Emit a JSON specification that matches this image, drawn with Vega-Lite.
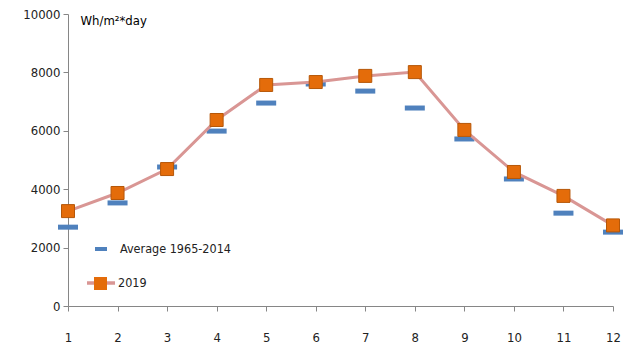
{
  "$schema": "https://vega.github.io/schema/vega-lite/v6.json",
  "width": 545,
  "height": 292,
  "autosize": {"type": "none"},
  "padding": {"left": 68, "top": 14, "right": 27, "bottom": 54},
  "background": "white",
  "config": {
    "view": {"stroke": null},
    "font": "Liberation Sans Narrow, DejaVu Sans Condensed, Liberation Sans",
    "axis": {"domainColor": "#868686", "tickColor": "#868686", "labelColor": "#222222", "labelFontSize": 13, "grid": false}
  },
  "data": {
    "values": [
      {"month": 1, "series": "Average 1965-2014", "value": 2700},
      {"month": 2, "series": "Average 1965-2014", "value": 3530},
      {"month": 3, "series": "Average 1965-2014", "value": 4760},
      {"month": 4, "series": "Average 1965-2014", "value": 5990},
      {"month": 5, "series": "Average 1965-2014", "value": 6950},
      {"month": 6, "series": "Average 1965-2014", "value": 7600},
      {"month": 7, "series": "Average 1965-2014", "value": 7360},
      {"month": 8, "series": "Average 1965-2014", "value": 6780},
      {"month": 9, "series": "Average 1965-2014", "value": 5720},
      {"month": 10, "series": "Average 1965-2014", "value": 4350},
      {"month": 11, "series": "Average 1965-2014", "value": 3180},
      {"month": 12, "series": "Average 1965-2014", "value": 2530},
      {"month": 1, "series": "2019", "value": 3250},
      {"month": 2, "series": "2019", "value": 3870},
      {"month": 3, "series": "2019", "value": 4690},
      {"month": 4, "series": "2019", "value": 6370},
      {"month": 5, "series": "2019", "value": 7570},
      {"month": 6, "series": "2019", "value": 7670},
      {"month": 7, "series": "2019", "value": 7880},
      {"month": 8, "series": "2019", "value": 8010},
      {"month": 9, "series": "2019", "value": 6030},
      {"month": 10, "series": "2019", "value": 4590},
      {"month": 11, "series": "2019", "value": 3770},
      {"month": 12, "series": "2019", "value": 2760}
    ]
  },
  "encoding": {
    "x": {
      "field": "month", "type": "quantitative",
      "scale": {"domain": [1, 12], "nice": false, "zero": false},
      "axis": {"values": [1,2,3,4,5,6,7,8,9,10,11,12], "format": "d", "title": null, "tickSize": 5, "labelPadding": 20, "labelFlush": false}
    },
    "y": {
      "field": "value", "type": "quantitative",
      "scale": {"domain": [0, 10000], "nice": false},
      "axis": {"values": [0, 2000, 4000, 6000, 8000, 10000], "format": "d", "tickSize": 5, "labelPadding": 3,
        "title": "Wh/m²*day", "titleAngle": 0, "titleAlign": "left", "titleBaseline": "middle", "titleX": 12, "titleY": 6,
        "titleFontWeight": "normal", "titleFontSize": 13, "titleColor": "#000000"}
    }
  },
  "layer": [
    {
      "transform": [{"filter": "datum.series === 'Average 1965-2014'"}],
      "mark": {"type": "tick", "orient": "horizontal", "size": 20, "thickness": 5, "opacity": 1},
      "encoding": {
        "color": {
          "field": "series", "type": "nominal",
          "scale": {"domain": ["Average 1965-2014"], "range": ["#4F81BD"]},
          "legend": {"orient": "none", "legendX": 26, "legendY": 228, "title": null, "padding": 0,
            "symbolType": "M-1,-0.33H1V0.33H-1Z", "symbolSize": 144, "symbolOpacity": 1, "labelFontSize": 12.5, "labelOffset": 12, "labelColor": "#222222"}
        }
      }
    },
    {
      "transform": [{"filter": "datum.series === '2019'"}],
      "mark": {"type": "line", "strokeWidth": 3},
      "encoding": {
        "stroke": {
          "field": "series", "type": "nominal",
          "scale": {"domain": ["2019"], "range": ["#D99694"]},
          "legend": {"orient": "none", "legendX": 17, "legendY": 253, "title": null, "padding": 0,
            "symbolType": "stroke", "symbolSize": 784, "symbolStrokeWidth": 3.5, "labelFontSize": 12.5, "labelOffset": 1, "labelColor": "#222222"}
        }
      }
    },
    {
      "transform": [{"filter": "datum.series === '2019'"}],
      "mark": {"type": "point", "filled": true, "fill": "#E46C0A", "stroke": "#B65708", "strokeWidth": 1, "size": 169, "opacity": 1},
      "encoding": {
        "shape": {
          "field": "series", "type": "nominal",
          "scale": {"range": ["square"]},
          "legend": {"orient": "none", "legendX": 25.5, "legendY": 262.5, "title": null, "padding": 0,
            "symbolType": "square", "symbolSize": 169, "symbolFillColor": "#E46C0A", "symbolStrokeColor": "#B65708", "symbolStrokeWidth": 1, "symbolOpacity": 1,
            "labelFontSize": 1, "labelExpr": "''"}
        }
      }
    }
  ]
}
